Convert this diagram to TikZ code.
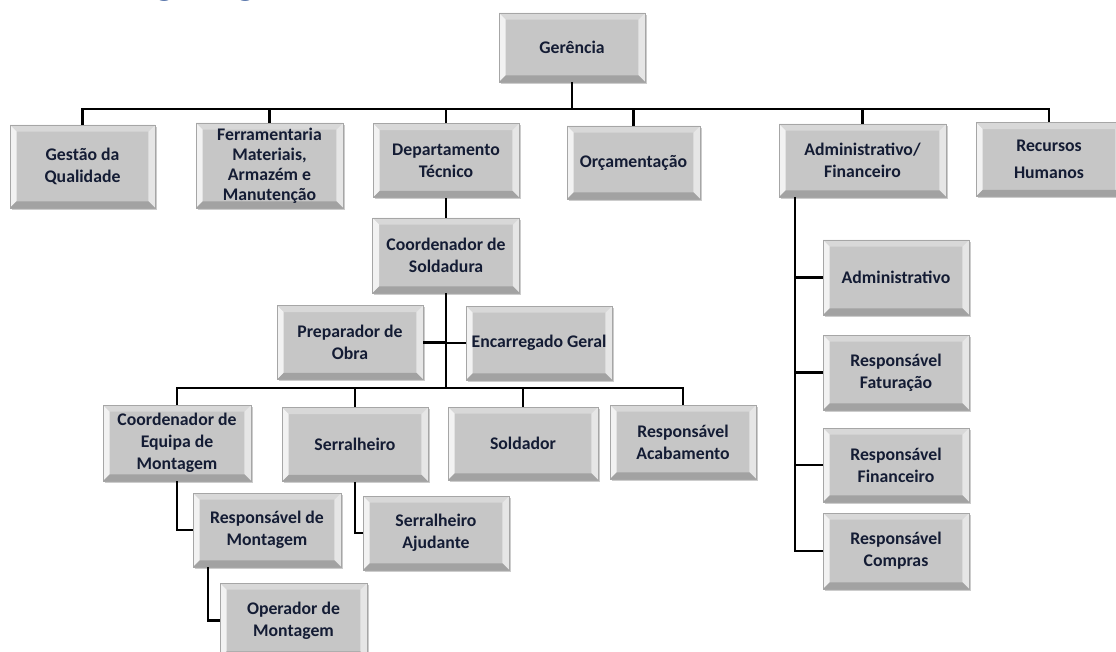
\documentclass[tikz,border=0pt]{standalone}
\usepackage{fontspec}
\setmainfont{Carlito}
\usepackage{tikz}
\definecolor{boxgray}{HTML}{C6C6C6}
\definecolor{bevtop}{HTML}{D8D8D8}
\definecolor{bevleft}{HTML}{F2F2F2}
\definecolor{bevright}{HTML}{E6E6E6}
\definecolor{bevbot}{HTML}{A2A2A2}
\definecolor{navytext}{HTML}{141C34}
\definecolor{titleblue}{HTML}{2E5395}

\begin{document}
\begin{tikzpicture}[x=0.75pt,y=-0.75pt,
	conn/.style={line width=1.8pt,black},
	wh/.style 2 args={minimum width=#1*0.75pt,minimum height=#2*0.75pt},
	cargo/.style={wh={146}{74},inner sep=2pt,align=center,text=navytext,
		font=\bfseries\fontsize{13.3}{16.5}\selectfont,
		draw=gray!70,line width=0.4pt,fill=boxgray,
		preaction={fill=black!50,opacity=0.4,transform canvas={xshift=1.3pt,yshift=-1.3pt}},
		path picture={
			\coordinate (nw) at (path picture bounding box.north west);
			\coordinate (ne) at (path picture bounding box.north east);
			\coordinate (sw) at (path picture bounding box.south west);
			\coordinate (se) at (path picture bounding box.south east);
			\fill[bevtop] (nw) -- (ne) -- ([xshift=-5pt,yshift=-5pt]ne) -- ([xshift=5pt,yshift=-5pt]nw) -- cycle;
			\fill[bevleft] (nw) -- (sw) -- ([xshift=5pt,yshift=5pt]sw) -- ([xshift=5pt,yshift=-5pt]nw) -- cycle;
			\fill[bevright] (ne) -- (se) -- ([xshift=-5pt,yshift=5pt]se) -- ([xshift=-5pt,yshift=-5pt]ne) -- cycle;
			\fill[bevbot] (sw) -- (se) -- ([xshift=-5pt,yshift=5pt]se) -- ([xshift=5pt,yshift=5pt]sw) -- cycle;
		}},
	]
	\useasboundingbox (0,0) rectangle (1116,652);
	\node[anchor=base west,inner sep=0pt,text=titleblue,font=\bfseries\fontsize{30}{36}\selectfont] (titulo) at (114,-5) {Organograma};

	\node[cargo,wh={146}{69}] (ger) at (572,47.5) {Gerência};

	\node[cargo,wh={145}{83}] (gestao) at (82.5,166.5) {Gestão da\\Qualidade};
	\node[cargo,wh={147}{85},font=\bfseries\fontsize{13.3}{15}\selectfont] (ferr) at (269.5,165.5) {Ferramentaria\\Materiais,\\Armazém e\\Manutenção};
	\node[cargo] (depto) at (446,160.5) {Departamento\\Técnico};
	\node[cargo,wh={133}{73}] (orc) at (633.5,162.5) {Orçamentação};
	\node[cargo,wh={167}{73}] (admin) at (862.5,160.5) {Administrativo/\\Financeiro};
	\node[cargo] (rh) at (1049,159.5) {Recursos\\[4pt]Humanos};

	\node[cargo,wh={147}{75}] (coord) at (446,255.5) {Coordenador de\\Soldadura};
	\node[cargo] (prep) at (350,342.5) {Preparador de\\Obra};
	\node[cargo] (enc) at (539,343) {Encarregado Geral};

	\node[cargo,wh={148}{76}] (cem) at (177,443) {Coordenador de\\Equipa de\\Montagem};
	\node[cargo] (serr) at (355,444.5) {Serralheiro};
	\node[cargo,wh={150}{73}] (sold) at (523,443.5) {Soldador};
	\node[cargo] (acab) at (683,442) {Responsável\\Acabamento};
	\node[cargo,wh={148}{74}] (respm) at (267,530) {Responsável de\\Montagem};
	\node[cargo] (ajud) at (436,533) {Serralheiro\\Ajudante};
	\node[cargo,wh={147}{75}] (oper) at (293.5,620.5) {Operador de\\Montagem};

	\node[cargo,wh={146}{75}] (adm) at (896,277.5) {Administrativo};
	\node[cargo,wh={146}{75}] (fat) at (896,372.5) {Responsável\\Faturação};
	\node[cargo] (fin) at (896,465) {Responsável\\Financeiro};
	\node[cargo,wh={146}{76}] (comp) at (896,551) {Responsável\\Compras};

	\coordinate (bus1) at (572,109);
	\coordinate (bus2) at (446,388);
	\coordinate (admline) at (795,0);

	\draw[conn] (ger.south) -- (bus1);
	\draw[conn] (gestao.north) |- (bus1) -| (rh.north);
	\foreach \n in {ferr,depto,orc,admin}
		\draw[conn] (\n.north) -- (\n.north |- bus1);

	\draw[conn] (depto.south) -- (coord.north);
	\draw[conn] (coord.south) -- (bus2);
	\draw[conn] (prep.east) -- (prep.east -| bus2);
	\draw[conn] (enc.west) -- (enc.west -| bus2);
	\draw[conn] (cem.north) |- (bus2) -| (acab.north);
	\foreach \n in {serr,sold}
		\draw[conn] (\n.north) -- (\n.north |- bus2);

	\draw[conn] (cem.south) |- (respm.west);
	\draw[conn] ([xshift=11.25pt]respm.south west) |- (oper.west);
	\draw[conn] (serr.south) |- (ajud.west);

	\draw[conn] (admin.south -| admline) |- (comp.west);
	\foreach \n in {adm,fat,fin}
		\draw[conn] (\n.west) -- (\n.west -| admline);
\end{tikzpicture}
\end{document}
